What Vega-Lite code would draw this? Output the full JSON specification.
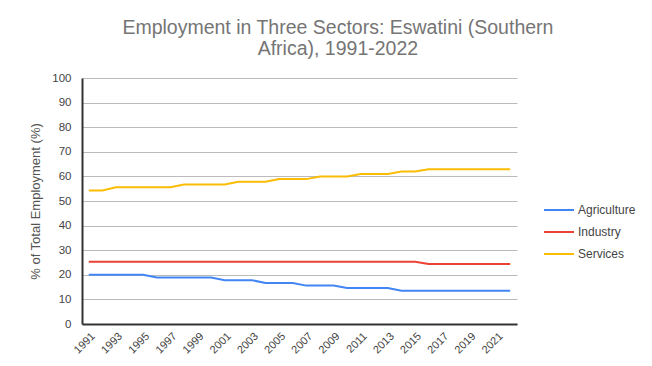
{
  "$schema": "https://vega.github.io/schema/vega-lite/v6.json",
  "width": 435,
  "height": 246,
  "autosize": {"type": "none"},
  "padding": {"left": 82, "top": 78, "right": 135, "bottom": 42},
  "background": "white",
  "title": {
    "text": ["Employment in Three Sectors: Eswatini (Southern", "Africa), 1991-2022"],
    "anchor": "middle",
    "frame": "bounds",
    "font": "Liberation Sans",
    "fontSize": 19.5,
    "fontWeight": "normal",
    "color": "#757575",
    "lineHeight": 21,
    "offset": 13,
    "dx": 5
  },
  "data": {
    "values": [
      {"year": 1991, "sector": "Agriculture", "value": 20.0},
      {"year": 1992, "sector": "Agriculture", "value": 20.0},
      {"year": 1993, "sector": "Agriculture", "value": 20.0},
      {"year": 1994, "sector": "Agriculture", "value": 20.0},
      {"year": 1995, "sector": "Agriculture", "value": 20.0},
      {"year": 1996, "sector": "Agriculture", "value": 18.9},
      {"year": 1997, "sector": "Agriculture", "value": 18.9},
      {"year": 1998, "sector": "Agriculture", "value": 18.9},
      {"year": 1999, "sector": "Agriculture", "value": 18.9},
      {"year": 2000, "sector": "Agriculture", "value": 18.9},
      {"year": 2001, "sector": "Agriculture", "value": 17.8},
      {"year": 2002, "sector": "Agriculture", "value": 17.8},
      {"year": 2003, "sector": "Agriculture", "value": 17.8},
      {"year": 2004, "sector": "Agriculture", "value": 16.7},
      {"year": 2005, "sector": "Agriculture", "value": 16.7},
      {"year": 2006, "sector": "Agriculture", "value": 16.7},
      {"year": 2007, "sector": "Agriculture", "value": 15.6},
      {"year": 2008, "sector": "Agriculture", "value": 15.6},
      {"year": 2009, "sector": "Agriculture", "value": 15.6},
      {"year": 2010, "sector": "Agriculture", "value": 14.6},
      {"year": 2011, "sector": "Agriculture", "value": 14.6},
      {"year": 2012, "sector": "Agriculture", "value": 14.6},
      {"year": 2013, "sector": "Agriculture", "value": 14.6},
      {"year": 2014, "sector": "Agriculture", "value": 13.5},
      {"year": 2015, "sector": "Agriculture", "value": 13.5},
      {"year": 2016, "sector": "Agriculture", "value": 13.5},
      {"year": 2017, "sector": "Agriculture", "value": 13.5},
      {"year": 2018, "sector": "Agriculture", "value": 13.5},
      {"year": 2019, "sector": "Agriculture", "value": 13.5},
      {"year": 2020, "sector": "Agriculture", "value": 13.5},
      {"year": 2021, "sector": "Agriculture", "value": 13.5},
      {"year": 2022, "sector": "Agriculture", "value": 13.5},
      {"year": 1991, "sector": "Industry", "value": 25.3},
      {"year": 1992, "sector": "Industry", "value": 25.3},
      {"year": 1993, "sector": "Industry", "value": 25.3},
      {"year": 1994, "sector": "Industry", "value": 25.3},
      {"year": 1995, "sector": "Industry", "value": 25.3},
      {"year": 1996, "sector": "Industry", "value": 25.3},
      {"year": 1997, "sector": "Industry", "value": 25.3},
      {"year": 1998, "sector": "Industry", "value": 25.3},
      {"year": 1999, "sector": "Industry", "value": 25.3},
      {"year": 2000, "sector": "Industry", "value": 25.3},
      {"year": 2001, "sector": "Industry", "value": 25.3},
      {"year": 2002, "sector": "Industry", "value": 25.3},
      {"year": 2003, "sector": "Industry", "value": 25.3},
      {"year": 2004, "sector": "Industry", "value": 25.3},
      {"year": 2005, "sector": "Industry", "value": 25.3},
      {"year": 2006, "sector": "Industry", "value": 25.3},
      {"year": 2007, "sector": "Industry", "value": 25.3},
      {"year": 2008, "sector": "Industry", "value": 25.3},
      {"year": 2009, "sector": "Industry", "value": 25.3},
      {"year": 2010, "sector": "Industry", "value": 25.3},
      {"year": 2011, "sector": "Industry", "value": 25.3},
      {"year": 2012, "sector": "Industry", "value": 25.3},
      {"year": 2013, "sector": "Industry", "value": 25.3},
      {"year": 2014, "sector": "Industry", "value": 25.3},
      {"year": 2015, "sector": "Industry", "value": 25.3},
      {"year": 2016, "sector": "Industry", "value": 24.4},
      {"year": 2017, "sector": "Industry", "value": 24.4},
      {"year": 2018, "sector": "Industry", "value": 24.4},
      {"year": 2019, "sector": "Industry", "value": 24.4},
      {"year": 2020, "sector": "Industry", "value": 24.4},
      {"year": 2021, "sector": "Industry", "value": 24.4},
      {"year": 2022, "sector": "Industry", "value": 24.4},
      {"year": 1991, "sector": "Services", "value": 54.3},
      {"year": 1992, "sector": "Services", "value": 54.3},
      {"year": 1993, "sector": "Services", "value": 55.6},
      {"year": 1994, "sector": "Services", "value": 55.6},
      {"year": 1995, "sector": "Services", "value": 55.6},
      {"year": 1996, "sector": "Services", "value": 55.6},
      {"year": 1997, "sector": "Services", "value": 55.6},
      {"year": 1998, "sector": "Services", "value": 56.7},
      {"year": 1999, "sector": "Services", "value": 56.7},
      {"year": 2000, "sector": "Services", "value": 56.7},
      {"year": 2001, "sector": "Services", "value": 56.7},
      {"year": 2002, "sector": "Services", "value": 57.8},
      {"year": 2003, "sector": "Services", "value": 57.8},
      {"year": 2004, "sector": "Services", "value": 57.8},
      {"year": 2005, "sector": "Services", "value": 58.9},
      {"year": 2006, "sector": "Services", "value": 58.9},
      {"year": 2007, "sector": "Services", "value": 58.9},
      {"year": 2008, "sector": "Services", "value": 60.0},
      {"year": 2009, "sector": "Services", "value": 60.0},
      {"year": 2010, "sector": "Services", "value": 60.0},
      {"year": 2011, "sector": "Services", "value": 61.0},
      {"year": 2012, "sector": "Services", "value": 61.0},
      {"year": 2013, "sector": "Services", "value": 61.0},
      {"year": 2014, "sector": "Services", "value": 62.0},
      {"year": 2015, "sector": "Services", "value": 62.0},
      {"year": 2016, "sector": "Services", "value": 62.9},
      {"year": 2017, "sector": "Services", "value": 62.9},
      {"year": 2018, "sector": "Services", "value": 62.9},
      {"year": 2019, "sector": "Services", "value": 62.9},
      {"year": 2020, "sector": "Services", "value": 62.9},
      {"year": 2021, "sector": "Services", "value": 62.9},
      {"year": 2022, "sector": "Services", "value": 62.9}
    ]
  },
  "mark": {"type": "line", "strokeWidth": 2},
  "encoding": {
    "x": {
      "field": "year",
      "type": "ordinal",
      "scale": {"type": "point", "padding": 0.5},
      "axis": {
        "title": null,
        "values": [1991, 1993, 1995, 1997, 1999, 2001, 2003, 2005, 2007, 2009, 2011, 2013, 2015, 2017, 2019, 2021],
        "labelAngle": -45,
        "labelFont": "Liberation Sans",
        "labelFontSize": 11,
        "labelColor": "#444444",
        "labelPadding": 6,
        "ticks": false,
        "grid": false,
        "domainColor": "#333333",
        "domainWidth": 2
      }
    },
    "y": {
      "field": "value",
      "type": "quantitative",
      "scale": {"domain": [0, 100], "nice": false},
      "axis": {
        "title": "% of Total Employment (%)",
        "titleFont": "Liberation Sans",
        "titleFontSize": 13,
        "titleFontWeight": "normal",
        "titleColor": "#555555",
        "titlePadding": 9,
        "values": [0, 10, 20, 30, 40, 50, 60, 70, 80, 90, 100],
        "labelFont": "Liberation Sans",
        "labelFontSize": 11.5,
        "labelColor": "#444444",
        "labelPadding": 11,
        "ticks": false,
        "gridColor": "#bbbbbb",
        "gridWidth": 1,
        "domainColor": "#333333",
        "domainWidth": 2
      }
    },
    "color": {
      "field": "sector",
      "type": "nominal",
      "scale": {
        "domain": ["Agriculture", "Industry", "Services"],
        "range": ["#4285F4", "#EA4335", "#FBBC04"]
      },
      "legend": {
        "title": null,
        "orient": "none",
        "legendX": 461,
        "legendY": 116,
        "symbolType": "stroke",
        "symbolSize": 900,
        "symbolStrokeWidth": 2,
        "labelFont": "Liberation Sans",
        "labelFontSize": 12,
        "labelColor": "#444444",
        "labelOffset": 3,
        "rowPadding": -2
      }
    }
  },
  "config": {
    "view": {"stroke": null},
    "legend": {"symbolLimit": 0}
  }
}
